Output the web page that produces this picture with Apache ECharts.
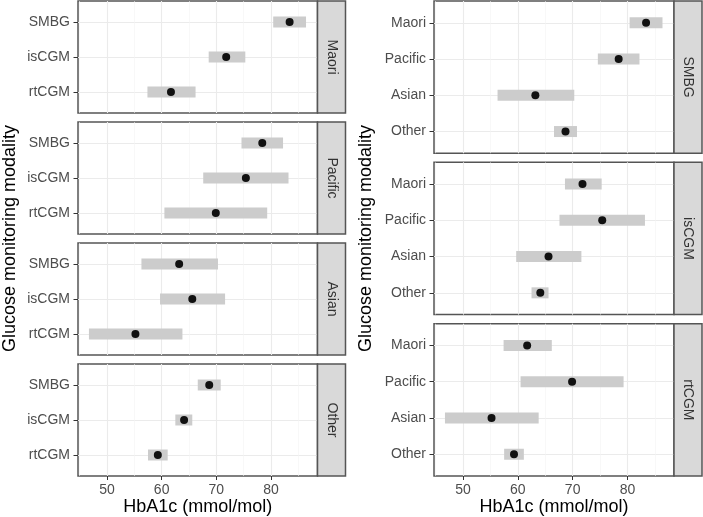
<!DOCTYPE html>
<html><head><meta charset="utf-8">
<script src="https://cdn.jsdelivr.net/npm/echarts@6/dist/echarts.min.js"></script>
<style>html,body{margin:0;padding:0;background:#fff}#c{width:703px;height:517px}</style>
</head><body><div id="c"></div>
<script>
const ethnicities = ['Maori', 'Pacific', 'Asian', 'Other'];
const modalities = ['SMBG', 'isCGM', 'rtCGM'];
// values indexed by ethnicity (Maori, Pacific, Asian, Other)
const smbgMean  = [83.4, 78.4, 63.2, 68.7];
const smbgLower = [80.4, 74.6, 56.3, 66.6];
const smbgUpper = [86.4, 82.2, 70.3, 70.8];
const iscgmMean  = [71.8, 75.4, 65.6, 64.1];
const iscgmLower = [68.6, 67.6, 59.7, 62.5];
const iscgmUpper = [75.3, 83.2, 71.6, 65.6];
const rtcgmMean  = [61.7, 69.9, 55.2, 59.3];
const rtcgmLower = [57.4, 60.5, 46.7, 57.5];
const rtcgmUpper = [66.2, 79.3, 63.8, 61.1];
const xTicks = [50, 60, 70, 80];
const xMinorTicks = [45, 55, 65, 75, 85];
const xMin = 44.7, xMax = 88.5;
const xTitle = 'HbA1c (mmol/mol)';
const yTitle = 'Glucose monitoring modality';

const means = [smbgMean, iscgmMean, rtcgmMean];
const lowers = [smbgLower, iscgmLower, rtcgmLower];
const uppers = [smbgUpper, iscgmUpper, rtcgmUpper];

const FONT = '"Liberation Sans", Arial, Helvetica, sans-serif';
const BORDER = '#555555';

// panel definitions
const panels = [];
const leftTops = [1, 122, 243, 364];
ethnicities.forEach((eth, e) => {
  panels.push({
    left: 78, width: 239.5, top: leftTops[e], height: 112,
    strip: eth, rows: modalities,
    mean: modalities.map((m, i) => means[i][e]),
    lo: modalities.map((m, i) => lowers[i][e]),
    hi: modalities.map((m, i) => uppers[i][e]),
    bottom: e === ethnicities.length - 1
  });
});
const rightTops = [1, 162.3, 323.7];
modalities.forEach((mod, m) => {
  panels.push({
    left: 434, width: 240, top: rightTops[m], height: 152.3,
    strip: mod, rows: ethnicities,
    mean: means[m], lo: lowers[m], hi: uppers[m],
    bottom: m === modalities.length - 1
  });
});

const grid = [], xAxis = [], yAxis = [], series = [], graphic = [];
panels.forEach((p, k) => {
  const n = p.rows.length;
  grid.push({left: p.left, top: p.top, width: p.width, height: p.height,
    show: true, borderColor: BORDER, borderWidth: 1.5, backgroundColor: '#fff', containLabel: false});
  xAxis.push({
    type: 'value', gridIndex: k, min: xMin, max: xMax, position: 'bottom',
    axisLine: {show: false, onZero: false},
    axisTick: {show: p.bottom, customValues: xTicks, length: 4, lineStyle: {color: '#333', width: 1}},
    axisLabel: {show: p.bottom, customValues: xTicks, color: '#4d4d4d', fontSize: 14, fontFamily: FONT, margin: 7},
    splitLine: {show: true, lineStyle: {color: '#ebebeb', width: 1.1}},
    name: p.bottom ? xTitle : '', nameLocation: 'middle', nameGap: 21,
    nameTextStyle: {color: '#000', fontSize: 18, fontFamily: FONT}
  });
  const idx = p.rows.map((r, i) => i);
  yAxis.push({
    type: 'value', gridIndex: k, inverse: true, min: -0.6, max: n - 1 + 0.6, position: 'left',
    axisLine: {show: false, onZero: false},
    axisTick: {show: true, customValues: idx, length: 4.5, lineStyle: {color: '#333', width: 1}},
    axisLabel: {show: true, customValues: idx, color: '#4d4d4d', fontSize: 14, fontFamily: FONT, margin: 8,
      formatter: v => p.rows[Math.round(v)]},
    splitLine: {show: true, lineStyle: {color: '#ebebeb', width: 1.1}}
  });
  series.push({
    type: 'custom', xAxisIndex: k, yAxisIndex: k, z: 3,
    data: p.rows.map((r, i) => [i, p.lo[i], p.hi[i]]),
    encode: {x: [1, 2], y: 0},
    renderItem: (params, api) => {
      const a = api.coord([api.value(1), api.value(0)]);
      const b = api.coord([api.value(2), api.value(0)]);
      return {type: 'rect', shape: {x: a[0], y: a[1] - 5.5, width: b[0] - a[0], height: 11},
        style: {fill: '#cccccc'}};
    },
    silent: true
  });
  series.push({
    type: 'scatter', xAxisIndex: k, yAxisIndex: k, z: 4,
    data: p.rows.map((r, i) => [p.mean[i], i]),
    symbolSize: 8, itemStyle: {color: '#111111', opacity: 1}, silent: true,
    markLine: {silent: true, symbol: 'none', z: 1, label: {show: false},
      lineStyle: {color: '#f3f3f3', width: 0.6, type: 'solid'},
      data: xMinorTicks.map(v => ({xAxis: v}))}
  });
  // strip
  graphic.push({type: 'rect', shape: {x: p.left + p.width, y: p.top, width: 28, height: p.height},
    style: {fill: '#d9d9d9', stroke: BORDER, lineWidth: 1.5}, z: 10});
  graphic.push({type: 'text', x: p.left + p.width + 14, y: p.top + p.height / 2, rotation: -Math.PI / 2,
    style: {text: p.strip, fill: '#333333', font: '14px ' + FONT, textAlign: 'center', textVerticalAlign: 'middle'}, z: 11});
});
graphic.push({type: 'text', x: 10, y: 238.5, rotation: Math.PI / 2,
  style: {text: yTitle, fill: '#000', font: '18px ' + FONT, textAlign: 'center', textVerticalAlign: 'middle'}});
graphic.push({type: 'text', x: 366, y: 238.5, rotation: Math.PI / 2,
  style: {text: yTitle, fill: '#000', font: '18px ' + FONT, textAlign: 'center', textVerticalAlign: 'middle'}});

const chart = echarts.init(document.getElementById('c'), null, {renderer: 'canvas'});
chart.setOption({animation: false, backgroundColor: '#ffffff', grid, xAxis, yAxis, series, graphic});
</script></body></html>
